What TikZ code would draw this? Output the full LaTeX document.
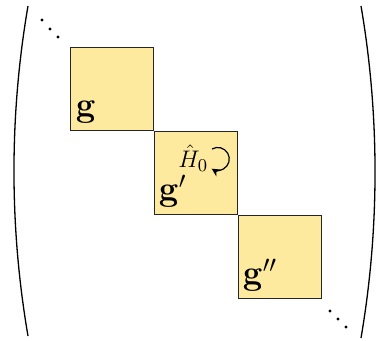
\documentclass[tikz,border=0pt]{standalone}
\usepackage{amsmath}
\usetikzlibrary{arrows.meta}
\definecolor{blockyellow}{RGB}{253,234,158}
\tikzset{
  blk/.style={draw=black!85, line width=0.5pt, fill=blockyellow, minimum size=41.5pt, inner sep=0pt},
  lbl/.style={anchor=base west, inner sep=0pt, font=\fontsize{17}{20}\selectfont},
  paren/.style={line width=0.65pt},
  dot/.style={fill=black, circle, inner sep=0pt, minimum size=1.6pt}
}
\begin{document}
\begin{tikzpicture}[x=0.5pt, y=-0.5pt]
  \useasboundingbox (0,0) rectangle (380,341);
  % diagonal blocks
  \node[blk] (G1) at (111.5,89) {};
  \node[blk, anchor=north west] (G2) at (G1.south east) {};
  \node[blk, anchor=north west] (G3) at (G2.south east) {};
  \node[lbl] (L1) at ([shift={(6,-14)}]G1.south west) {$\mathbf{g}$};
  \node[lbl] (L2) at ([shift={(5,-14)}]G2.south west) {$\mathbf{g}'$};
  \node[lbl] (L3) at ([shift={(5,-14)}]G3.south west) {$\mathbf{g}''$};
  % operator acting on the middle block
  \node[anchor=base west, inner sep=0pt, font=\fontsize{13}{15}\selectfont] (H) at (178,168) {$\hat{H}_0$};
  \draw[-{Stealth[length=4pt,width=4pt]}, line width=0.6pt] (212,149) arc[start angle=-120, end angle=122, radius=11.5];
  % dots
  \foreach \x/\y in {42/20, 50/29, 58/37, 330/311, 338/319, 346/327}
    \node[dot] at (\x,\y) {};
  % brackets
  \draw[paren] (28,6) .. controls (9.3,115) and (9.3,227) .. (28,336);
  \draw[paren] (361,6) .. controls (379.7,115) and (379.7,229) .. (361,338);
\end{tikzpicture}
\end{document}
